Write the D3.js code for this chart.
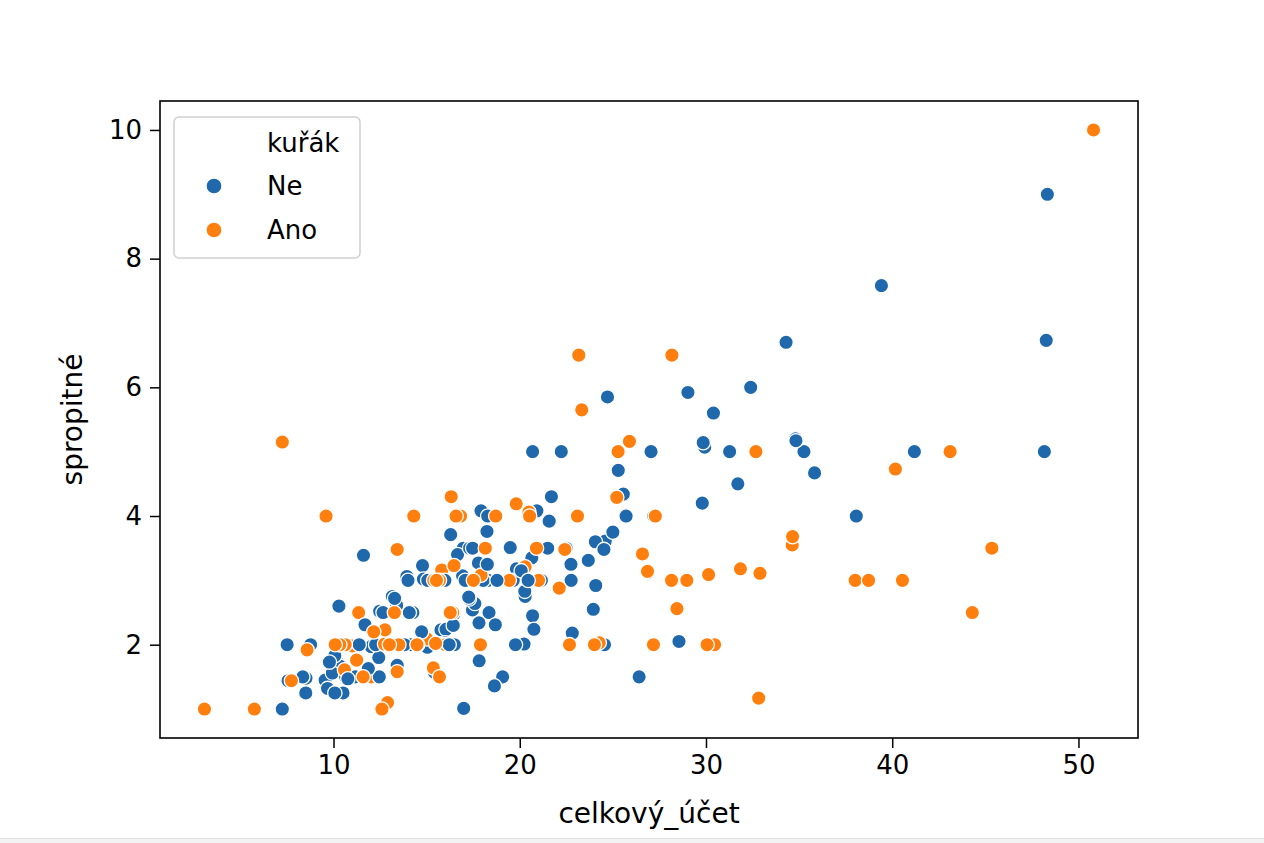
<!DOCTYPE html>
<html>
<head>
<meta charset="utf-8">
<script src="https://cdn.jsdelivr.net/npm/d3@7"></script>
<style>
  body { margin: 0; background: #fff; }
  text { font-family: "DejaVu Sans", sans-serif; fill: #000; }
</style>
</head>
<body>
<svg id="chart" width="1264" height="843"></svg>
<script>
// tips data: celkový účet, spropitné, kuřák
const totalBill = [16.99,10.34,21.01,23.68,24.59,25.29,8.77,26.88,15.04,14.78,10.27,35.26,15.42,18.43,14.83,21.58,10.33,16.29,16.97,20.65,17.92,20.29,15.77,39.42,19.82,17.81,13.37,12.69,21.7,19.65,9.55,18.35,15.06,20.69,17.78,24.06,16.31,16.93,18.69,31.27,16.04,17.46,13.94,9.68,30.4,18.29,22.23,32.4,28.55,18.04,12.54,10.29,34.81,9.94,25.56,19.49,38.01,26.41,11.24,48.27,20.29,13.81,11.02,18.29,17.59,20.08,16.45,3.07,20.23,15.01,12.02,17.07,26.86,25.28,14.73,10.51,17.92,27.2,22.76,17.29,19.44,16.66,10.07,32.68,15.98,34.83,13.03,18.28,24.71,21.16,28.97,22.49,5.75,16.32,22.75,40.17,27.28,12.03,21.01,12.46,11.35,15.38,44.3,22.42,20.92,15.36,20.49,25.21,18.24,14.31,14.0,7.25,38.07,23.95,25.71,17.31,29.93,10.65,12.43,24.08,11.69,13.42,14.26,15.95,12.48,29.8,8.52,14.52,11.38,22.82,19.08,20.27,11.17,12.26,18.26,8.51,10.33,14.15,16.0,13.16,17.47,34.3,41.19,27.05,16.43,8.35,18.64,11.87,9.78,7.51,14.07,13.13,17.26,24.55,19.77,29.85,48.17,25.0,13.39,16.49,21.5,12.66,16.21,13.81,17.51,24.52,20.76,31.71,10.59,10.63,50.81,15.81,7.25,31.85,16.82,32.9,17.89,14.48,9.6,34.63,34.65,23.33,45.35,23.17,40.55,20.69,20.9,30.46,18.15,23.1,15.69,19.81,28.44,15.48,16.58,7.56,10.34,43.11,13.0,13.51,18.71,12.74,13.0,16.4,20.53,16.47,26.59,38.73,24.27,12.76,30.06,25.89,48.33,13.27,28.17,12.9,28.15,11.59,7.74,30.14,12.16,13.42,8.58,15.98,13.42,16.27,10.09,20.45,13.28,22.12,24.01,15.69,11.61,10.77,15.53,10.07,12.6,32.83,35.83,29.03,27.18,22.67,17.82,18.78];
const tip = [1.01,1.66,3.5,3.31,3.61,4.71,2.0,3.12,1.96,3.23,1.71,5.0,1.57,3.0,3.02,3.92,1.67,3.71,3.5,3.35,4.08,2.75,2.23,7.58,3.18,2.34,2.0,2.0,4.3,3.0,1.45,2.5,3.0,2.45,3.27,3.6,2.0,3.07,2.31,5.0,2.24,2.54,3.06,1.32,5.6,3.0,5.0,6.0,2.05,3.0,2.5,2.6,5.2,1.56,4.34,3.51,3.0,1.5,1.76,6.73,3.21,2.0,1.98,3.76,2.64,3.15,2.47,1.0,2.01,2.09,1.97,3.0,3.14,5.0,2.2,1.25,3.08,4.0,3.0,2.71,3.0,3.4,1.83,5.0,2.03,5.17,2.0,4.0,5.85,3.0,3.0,3.5,1.0,4.3,3.25,4.73,4.0,1.5,3.0,1.5,2.5,3.0,2.5,3.48,4.08,1.64,4.06,4.29,3.76,4.0,3.0,1.0,4.0,2.55,4.0,3.5,5.07,1.5,1.8,2.92,2.31,1.68,2.5,2.0,2.52,4.2,1.48,2.0,2.0,2.18,1.5,2.83,1.5,2.0,3.25,1.25,2.0,2.0,2.0,2.75,3.5,6.7,5.0,5.0,2.3,1.5,1.36,1.63,1.73,2.0,2.5,2.0,2.74,2.0,2.0,5.14,5.0,3.75,2.61,2.0,3.5,2.5,2.0,2.0,3.0,3.48,2.24,4.5,1.61,2.0,10.0,3.16,5.15,3.18,4.0,3.11,2.0,2.0,4.0,3.55,3.68,5.65,3.5,6.5,3.0,5.0,3.5,2.0,3.5,4.0,1.5,4.19,2.56,2.02,4.0,1.44,2.0,5.0,2.0,2.0,4.0,2.01,2.0,2.5,4.0,3.23,3.41,3.0,2.03,2.23,2.0,5.16,9.0,2.5,6.5,1.1,3.0,1.5,1.44,3.09,2.2,3.48,1.92,3.0,1.58,2.5,2.0,3.0,2.72,2.88,2.0,3.0,3.39,1.47,3.0,1.25,1.0,1.17,4.67,5.92,2.0,2.0,1.75,3.0];
// N = Ne, A = Ano, in groups of ten rows
const smokerCodes = "NNNNNNNNNN NNNNNNNNNN NNNNNNNNNN NNNNNNNNNN NNNNNNNNNN NNNNNNANAN AAAANNNANA NNAANNANNN ANNANNNNNN ANAANAAAAN AAAANAAANA NNNNNNNNNN NNNNNNNNNN NNNNNNNNAN NNNNNNNNNN NNNNNNNNNN NNNNANNNAA AAAAAAAAAA AAAAANAAAA AAAAANAAAA AAAAAAAAAA AANAAAAAAA AAANAAANNA AANNANAANN AANN";
const smoker = smokerCodes.replace(/ /g, "").split("").map(c => c === "A" ? "Ano" : "Ne");

const hueLevels = ["Ne", "Ano"];
const hueColors = ["#1f68ab", "#ff7f0e"];
const xTicks = [10, 20, 30, 40, 50];
const yTicks = [2, 4, 6, 8, 10];

const rows = totalBill.map((b, i) => ({ bill: b, tip: tip[i], smoker: smoker[i] }));

const margin = { top: 101, left: 160, bottom: 105, right: 126 };
const svgWidth = 1264, svgHeight = 843;
const width = svgWidth - margin.left - margin.right;
const height = svgHeight - margin.top - margin.bottom;

const svg = d3.select("#chart");

// light strip along the bottom edge
svg.append("rect").attr("x", 0).attr("y", 838).attr("width", svgWidth).attr("height", 5)
  .attr("fill", "#f3f3f3").attr("stroke", "none");
svg.append("line").attr("x1", 0).attr("x2", svgWidth).attr("y1", 838.5).attr("y2", 838.5)
  .attr("stroke", "#e2e2e2");

const g = svg.append("g").attr("transform", `translate(${margin.left},${margin.top})`);

// 5% padding like matplotlib
const xExt = d3.extent(totalBill), yExt = d3.extent(tip);
const xPad = (xExt[1] - xExt[0]) * 0.05, yPad = (yExt[1] - yExt[0]) * 0.05;
const x = d3.scaleLinear().domain([xExt[0] - xPad, xExt[1] + xPad]).range([0, width]);
const y = d3.scaleLinear().domain([yExt[0] - yPad, yExt[1] + yPad]).range([height, 0]);
const color = d3.scaleOrdinal().domain(hueLevels).range(hueColors);

// points, drawn in data order
g.append("g").selectAll("circle")
  .data(rows)
  .join("circle")
  .attr("cx", d => x(d.bill))
  .attr("cy", d => y(d.tip))
  .attr("r", 7.2)
  .attr("fill", d => color(d.smoker))
  .attr("stroke", "#fff")
  .attr("stroke-width", 1.3);

// axes
const xAxis = g.append("g").attr("transform", `translate(0,${height})`)
  .call(d3.axisBottom(x).tickValues(xTicks).tickSize(10).tickPadding(8).tickFormat(d3.format("d")));
const yAxis = g.append("g")
  .call(d3.axisLeft(y).tickValues(yTicks).tickSize(10).tickPadding(8).tickFormat(d3.format("d")));
[xAxis, yAxis].forEach(a => {
  a.select(".domain").remove();
  a.selectAll(".tick line").attr("stroke", "#000").attr("stroke-width", 1.5);
  a.selectAll(".tick text").attr("font-size", 26).attr("font-family", "DejaVu Sans").attr("fill", "#000");
});

// frame
g.append("rect").attr("width", width).attr("height", height)
  .attr("fill", "none").attr("stroke", "#000").attr("stroke-width", 1.6);

// axis labels
g.append("text").attr("x", width / 2).attr("y", height + 85)
  .attr("text-anchor", "middle").attr("font-size", 28).text("celkový_účet");
g.append("text").attr("transform", `translate(${-78},${height / 2}) rotate(-90)`)
  .attr("text-anchor", "middle").attr("font-size", 28).text("spropitné");

// legend
const lg = g.append("g").attr("transform", "translate(14,16)");
lg.append("rect").attr("width", 186).attr("height", 141).attr("rx", 5)
  .attr("fill", "#fff").attr("fill-opacity", 0.8).attr("stroke", "#d0d0d0").attr("stroke-width", 1.5);
lg.append("text").attr("x", 93).attr("y", 35).attr("font-size", 26).text("kuřák");
hueLevels.forEach((lvl, i) => {
  const cy = 69 + i * 44;
  lg.append("circle").attr("cx", 40).attr("cy", cy).attr("r", 8)
    .attr("fill", color(lvl)).attr("stroke", "#fff").attr("stroke-width", 1.3);
  lg.append("text").attr("x", 93).attr("y", cy + 9).attr("font-size", 26).text(lvl);
});
</script>
</body>
</html>
